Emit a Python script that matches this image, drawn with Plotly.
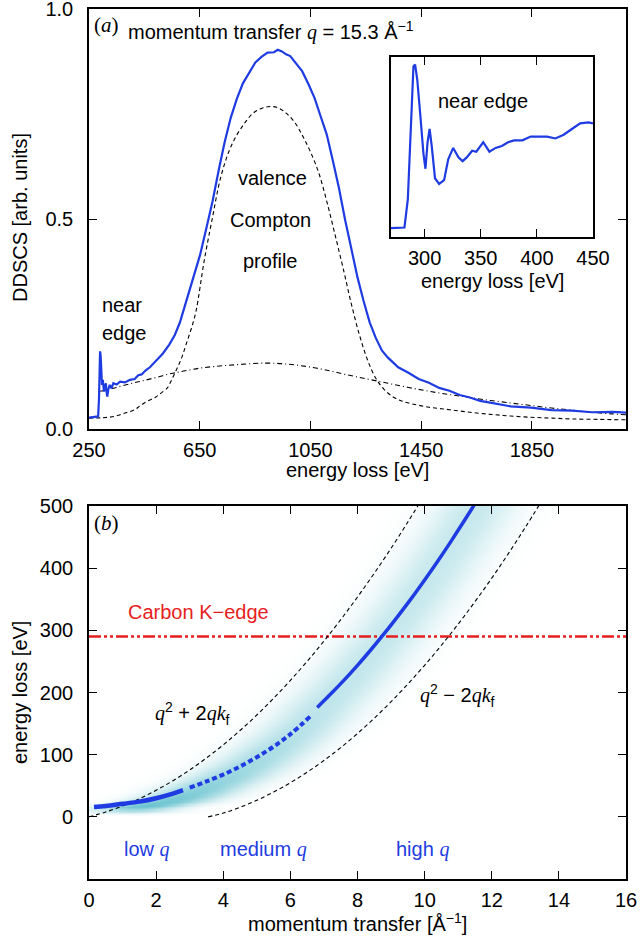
import numpy as np
import plotly.graph_objects as go

# ---------------- data: panel (a) ----------------
energy_a = [250, 270, 283, 286, 288, 290, 292, 294, 297, 300, 302, 304, 307, 311, 313, 316, 320, 325, 331, 338,
            350, 362, 380, 398, 415, 428, 440, 455, 470, 490, 517, 540, 560, 578, 600, 625, 651, 675, 696, 720,
            740, 762, 784, 806, 829, 851, 873, 895, 918, 932, 947, 962, 977, 1000, 1020, 1043, 1065, 1087, 1109,
            1131, 1153, 1175, 1198, 1220, 1242, 1264, 1286, 1308, 1330, 1367, 1404, 1441, 1478, 1515, 1552, 1589,
            1626, 1663, 1699, 1773, 1847, 1921, 1995, 2068, 2142, 2190]
ddscs = [0.027, 0.028, 0.030, 0.070, 0.150, 0.185, 0.175, 0.130, 0.105, 0.117, 0.100, 0.089, 0.100, 0.109, 0.090,
         0.077, 0.095, 0.105, 0.097, 0.109, 0.106, 0.113, 0.111, 0.117, 0.119, 0.128, 0.130, 0.140, 0.147, 0.161,
         0.180, 0.201, 0.224, 0.253, 0.300, 0.356, 0.414, 0.481, 0.541, 0.621, 0.683, 0.741, 0.786, 0.823, 0.850,
         0.873, 0.886, 0.896, 0.897, 0.903, 0.899, 0.892, 0.888, 0.869, 0.852, 0.821, 0.788, 0.744, 0.701, 0.639,
         0.574, 0.499, 0.431, 0.361, 0.305, 0.254, 0.217, 0.187, 0.170, 0.147, 0.134, 0.119, 0.110, 0.098, 0.091,
         0.081, 0.075, 0.067, 0.063, 0.054, 0.051, 0.045, 0.044, 0.040, 0.041, 0.039]

energy_compton = [250, 300, 341, 380, 415, 434, 460, 489, 505, 533, 541, 565, 585, 601, 620, 637, 666, 695, 725, 755,
                  784, 814, 843, 873, 903, 932, 962, 991, 1020, 1050, 1080, 1109, 1138, 1168, 1197, 1227, 1256, 1286,
                  1315, 1345, 1375, 1404, 1478, 1552, 1626, 1699, 1773, 1847, 1921, 1995, 2090, 2190]
compton = [0.026, 0.027, 0.030, 0.038, 0.046, 0.055, 0.066, 0.075, 0.083, 0.098, 0.107, 0.140, 0.170, 0.202, 0.240,
           0.282, 0.400, 0.500, 0.597, 0.660, 0.700, 0.730, 0.752, 0.763, 0.768, 0.765, 0.752, 0.732, 0.700, 0.660,
           0.610, 0.542, 0.465, 0.383, 0.300, 0.224, 0.165, 0.121, 0.095, 0.078, 0.068, 0.062, 0.052, 0.046, 0.040,
           0.035, 0.031, 0.028, 0.026, 0.024, 0.023, 0.022]

energy_bg = [290, 312, 338, 400, 445, 500, 553, 592, 650, 722, 800, 888, 960, 1035, 1110, 1183, 1256, 1330, 1404,
             1478, 1552, 1626, 1700, 1773, 1847, 1921, 1995, 2069, 2140, 2190]
background = [0.090, 0.092, 0.097, 0.108, 0.115, 0.124, 0.133, 0.138, 0.145, 0.150, 0.154, 0.157, 0.155, 0.149,
              0.140, 0.129, 0.119, 0.109, 0.099, 0.090, 0.082, 0.075, 0.068, 0.062, 0.056, 0.050, 0.045, 0.040,
              0.036, 0.034]

# inset: near edge
energy_inset = [270, 282, 285, 288, 290, 291.5, 293.4, 296.3, 298.9, 300.7, 302.6, 304.4, 306.3, 309.2, 312.9, 317.3,
                321, 325.4, 330.1, 333.8, 337.5, 342.3, 346, 352.2, 357.7, 363.2, 368.8, 374.3, 379.8, 387.1, 394.5,
                401.8, 409.2, 416.5, 423.9, 431.2, 438.6, 446, 450]
near_edge = [0.046, 0.050, 0.200, 0.610, 0.900, 0.910, 0.830, 0.630, 0.440, 0.360, 0.500, 0.570, 0.480, 0.310, 0.280,
             0.300, 0.410, 0.470, 0.420, 0.400, 0.420, 0.455, 0.450, 0.500, 0.450, 0.470, 0.480, 0.500, 0.510, 0.510,
             0.530, 0.530, 0.530, 0.520, 0.540, 0.570, 0.600, 0.605, 0.600]

# ---------------- data: panel (b) ----------------
q_plus = [0, 0.5, 1, 1.5, 2, 2.5, 3, 3.5, 4, 4.5, 5, 5.5, 6, 6.5, 7, 7.5, 8, 8.5, 9, 9.5, 9.85]
E_plus = [0, 7.8, 17.5, 29.1, 42.7, 58.1, 75.4, 94.7, 115.8, 138.9, 163.8, 190.7, 219.5, 250.1, 282.7, 317.2,
          353.6, 391.9, 432.0, 474.2, 504.8]
q_minus = [3.55, 4, 4.5, 5, 5.5, 6, 6.5, 7, 7.5, 8, 8.5, 9, 9.5, 10, 10.5, 11, 11.5, 12, 12.5, 13, 13.45]
E_minus = [0, 6.1, 15.4, 26.7, 39.8, 54.9, 71.8, 90.7, 111.4, 134.1, 158.7, 185.2, 213.6, 243.8, 276.0, 310.1,
           346.1, 384.0, 423.9, 465.6, 504.8]
q_low = [0.15, 0.5, 1.0, 1.5, 2.0, 2.5, 2.8]
E_low = [16, 17.5, 21, 24.5, 30, 37.5, 43]
q_med = [3.0, 3.5, 4.0, 4.5, 5.0, 5.5, 6.0, 6.6]
E_med = [47, 57, 68, 81, 96, 113, 133, 162]
q_high = [6.8, 7.2, 7.6, 8.0, 8.4, 8.8, 9.2, 9.6, 10.0, 10.4, 10.8, 11.2, 11.47]
E_high = [176, 197.5, 220, 243.8, 268.8, 295, 322.5, 351, 381, 412, 444.4, 478, 501]
carbon_k_edge = 290
q_span = [0, 16]

BLUE = "rgb(30,60,225)"
FONT = "Liberation Sans, Arial, sans-serif"
SERIF = "Liberation Serif, Times New Roman, serif"
FS = 20

fig = go.Figure()

# ---- panel (a) ----
fig.add_trace(go.Scatter(x=energy_compton, y=compton, mode="lines", line=dict(color="black", width=1.1, dash="4px,3px"),
                         xaxis="x", yaxis="y", hoverinfo="skip", line_shape="spline"))
fig.add_trace(go.Scatter(x=energy_bg, y=background, mode="lines",
                         line=dict(color="black", width=1.1, dash="5px,3px,1px,3px"), xaxis="x", yaxis="y",
                         hoverinfo="skip", line_shape="spline"))
fig.add_trace(go.Scatter(x=energy_a, y=ddscs, mode="lines", line=dict(color=BLUE, width=2.2), xaxis="x", yaxis="y"))
fig.add_trace(go.Scatter(x=energy_inset, y=near_edge, mode="lines", line=dict(color=BLUE, width=2.2),
                         xaxis="x3", yaxis="y3"))

# ---- panel (b): shaded band (decorative gradient between the two dashed limits) ----
qg = np.linspace(0, 16, 401)
Eg = np.linspace(-100, 500, 301)
q_center_all = q_low + q_med + q_high
E_center_all = E_low + E_med + E_high
ql = np.interp(Eg, E_plus, q_plus)
qh = np.interp(Eg, E_minus, q_minus)
qc = np.interp(Eg, E_center_all, q_center_all)
mid = 0.5 * (0.5 * (ql + qh) + qc)
hw = np.maximum((qh - ql) / 2, 0.5)
d = (qg[None, :] - mid[:, None]) / hw[:, None]
amp = (0.32 + 0.68 * np.exp(-np.clip(Eg, 0, None) / 70.0)) * np.clip((Eg - 3) / 14.0, 0, 1)
zband = np.exp(-(d / 0.66) ** 2) * amp[:, None]
fig.add_trace(go.Heatmap(x=qg, y=Eg, z=zband, zmin=0, zmax=1, zsmooth="best", showscale=False,
                         colorscale=[[0, "rgb(255,255,255)"], [1, "rgb(80,185,200)"]],
                         xaxis="x2", yaxis="y2", hoverinfo="skip"))

fig.add_trace(go.Scatter(x=q_span, y=[carbon_k_edge, carbon_k_edge], mode="lines",
                         line=dict(color="rgb(230,30,30)", width=2.4, dash="12px,3px,3px,3px,3px,3px"),
                         xaxis="x2", yaxis="y2"))
fig.add_trace(go.Scatter(x=q_plus, y=E_plus, mode="lines", line=dict(color="black", width=1.1, dash="4px,3px"),
                         line_shape="spline", xaxis="x2", yaxis="y2"))
fig.add_trace(go.Scatter(x=q_minus, y=E_minus, mode="lines", line=dict(color="black", width=1.1, dash="4px,3px"),
                         line_shape="spline", xaxis="x2", yaxis="y2"))
fig.add_trace(go.Scatter(x=q_low, y=E_low, mode="lines", line=dict(color=BLUE, width=4.5), line_shape="spline",
                         xaxis="x2", yaxis="y2"))
fig.add_trace(go.Scatter(x=q_med, y=E_med, mode="lines", line=dict(color=BLUE, width=4, dash="5px,3px"),
                         line_shape="spline", xaxis="x2", yaxis="y2"))
fig.add_trace(go.Scatter(x=q_high, y=E_high, mode="lines", line=dict(color=BLUE, width=3.5), line_shape="spline",
                         xaxis="x2", yaxis="y2"))

ax_common = dict(showline=True, linecolor="black", linewidth=1.6, mirror="ticks", ticks="inside", ticklen=8,
                 tickwidth=1.4, tickcolor="black", showgrid=False, zeroline=False, automargin=False,
                 ticklabeloverflow="allow", tickfont=dict(family=FONT, size=FS, color="black"))

fig.update_layout(
    width=640, height=936, showlegend=False,
    margin=dict(l=89, r=14, t=9, b=57, autoexpand=False),
    paper_bgcolor="white", plot_bgcolor="white",
    xaxis=dict(domain=[0, 1], anchor="y", range=[250, 2190], tickvals=[250, 650, 1050, 1450, 1850],
               ticklabelstandoff=2, **ax_common),
    yaxis=dict(domain=[0.5172, 1], anchor="x", range=[0, 1.0], tickvals=[0, 0.5, 1.0],
               ticktext=["0.0", "0.5", "1.0"], ticklabelstandoff=10, **ax_common),
    xaxis2=dict(domain=[0, 1], anchor="y2", range=[0, 16], tickvals=list(range(0, 17, 2)),
                ticklabelstandoff=2, **ax_common),
    yaxis2=dict(domain=[0, 0.4287], anchor="x2", range=[-100, 500], tickvals=[0, 100, 200, 300, 400, 500],
                ticklabelstandoff=10, **ax_common),
    xaxis3=dict(domain=[0.5624, 0.9385], anchor="y3", range=[270, 450], tickvals=[300, 350, 400, 450],
                ticklabelstandoff=2, **ax_common),
    yaxis3=dict(domain=[0.738, 0.9448], anchor="x3", range=[0, 0.95], showline=True, linecolor="black",
                linewidth=1.6, mirror=True, ticks="", showticklabels=False, showgrid=False, zeroline=False,
                automargin=False),
)

# page-pixel -> paper coordinates (plot area spans x 89..626, y 9..879)
def px_x(px):
    return (px - 89) / 537.0

def px_y(py):
    return (879 - py) / 870.0

ann = []
def add(text, x, y, xref="paper", yref="paper", size=FS, color="black", xanchor="center", yanchor="middle",
        angle=0, family=FONT):
    ann.append(dict(text=text, x=x, y=y, xref=xref, yref=yref, showarrow=False, xanchor=xanchor,
                    yanchor=yanchor, textangle=angle, font=dict(family=family, size=size, color=color)))

IQ = "<i><span style='font-family:Liberation Serif'>q</span></i>"
IQK = "<i><span style='font-family:Liberation Serif'>qk</span></i>"

# axis titles
add("energy loss [eV]", px_x(357), px_y(470))
add("DDSCS [arb. units]", px_x(20), px_y(218), angle=-90)
add("momentum transfer [Å<sup>−1</sup>]", px_x(357), px_y(922))
add("energy loss [eV]", px_x(20), px_y(693), angle=-90)
add("energy loss [eV]", px_x(492), px_y(281))

# panel (a) texts
add("(<i>a</i>)", px_x(92), px_y(25), xanchor="left", family=SERIF, size=21)
add("momentum transfer " + IQ + " = 15.3 Å<sup>−1</sup>", px_x(126), px_y(31), xanchor="left")
add("valence", 914, 0.597, xref="x", yref="y")
add("Compton", 905, 0.498, xref="x", yref="y")
add("profile", 905, 0.40, xref="x", yref="y")
add("near", 371, 0.296, xref="x", yref="y")
add("edge", 378, 0.229, xref="x", yref="y")
add("near edge", 352, 0.72, xref="x3", yref="y3")

# panel (b) texts
add("(<i>b</i>)", px_x(92), px_y(523), xanchor="left", family=SERIF, size=21)
add("Carbon K−edge", 3.25, 330, xref="x2", yref="y2", color="rgb(230,30,30)")
add(IQ + "<sup>2</sup> + 2" + IQK + "<sub>f</sub>", 3.07, 166, xref="x2", yref="y2")
add(IQ + "<sup>2</sup> − 2" + IQK + "<sub>f</sub>", 10.97, 196, xref="x2", yref="y2")
add("low " + IQ, 1.73, -53, xref="x2", yref="y2", color=BLUE)
add("medium " + IQ, 5.2, -53, xref="x2", yref="y2", color=BLUE)
add("high " + IQ, 9.94, -53, xref="x2", yref="y2", color=BLUE)

fig.update_layout(annotations=ann)
fig.write_html("out.html", config={"displayModeBar": False},
               post_script="document.body.style.margin='0px';document.body.style.overflow='hidden';")
